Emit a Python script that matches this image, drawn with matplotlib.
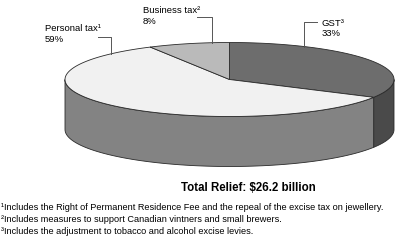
import numpy as np
import matplotlib.pyplot as plt
from matplotlib.patches import Polygon

plt.rcParams['font.family'] = ['Liberation Sans', 'DejaVu Sans']

# -------------------------------
# Data
# -------------------------------
labels = ["GST\u00b3", "Personal tax\u00b9", "Business tax\u00b2"]
shares = [33, 59, 8]
title = "Total Relief: $26.2 billion"
notes = [
    "\u00b9Includes the Right of Permanent Residence Fee and the repeal of the excise tax on jewellery.",
    "\u00b2Includes measures to support Canadian vintners and small brewers.",
    "\u00b3Includes the adjustment to tobacco and alcohol excise levies.",
]

# -------------------------------
# Style / geometry (pixel space)
# -------------------------------
top_cols = ["#6d6d6d", "#f1f1f1", "#bababa"]
side_cols = ["#4a4a4a", "#838383", "#9a9a9a"]
cx, cy, ra, rb, depth = 229.5, 79.5, 164.5, 37.0, 50.0
edge = "#2a2a2a"

fig = plt.figure(figsize=(3.96, 2.4), dpi=100)
ax = fig.add_axes([0, 0, 1, 1])
ax.set_xlim(0, 396)
ax.set_ylim(240, 0)
ax.axis("off")


def pt(t, dz=0.0):
    r = np.radians(t)
    return cx + ra * np.cos(r), cy - rb * np.sin(r) + dz


# slice angles, clockwise from 12 o'clock
bounds = [90.0]
for s in shares:
    bounds.append(bounds[-1] - 360.0 * s / sum(shares))

# side walls (front half only)
for i in range(len(shares)):
    t1, t2 = bounds[i], bounds[i + 1]
    for k in range(2):
        lo, hi = max(t2, -180 - 360 * k), min(t1, 0 - 360 * k)
        if hi <= lo:
            continue
        ts = np.linspace(hi, lo, 80)
        top = [pt(t) for t in ts]
        bot = [pt(t, depth) for t in ts[::-1]]
        ax.add_patch(Polygon(top + bot, closed=True, fc=side_cols[i],
                             ec=edge, lw=0.6))

# top faces
for i in range(len(shares)):
    ts = np.linspace(bounds[i], bounds[i + 1], 120)
    poly = [(cx, cy)] + [pt(t) for t in ts]
    ax.add_patch(Polygon(poly, closed=True, fc=top_cols[i], ec=edge, lw=0.6))

# labels with leader lines
anchor_ang = [63.0, 136.0, 96.0]
label_xy = [(322, 19), (45, 24), (143, 6)]
leader_y = [22, 37, 17]
leader_x = [317, 98, 197]
for i in range(len(shares)):
    ex, ey = pt(anchor_ang[i])
    ax.plot([ex, ex, leader_x[i]], [ey, leader_y[i], leader_y[i]],
            color="#555555", lw=0.7)
    lx, ly = label_xy[i]
    ax.text(lx, ly, labels[i], fontsize=6.8, va="top", ha="left")
    ax.text(lx, ly + 10.5, f"{shares[i]}%", fontsize=6.8, va="top", ha="left")

ax.text(248.5, 188, title, fontsize=8.3, fontweight="bold", ha="center", va="center")

for j, n in enumerate(notes):
    ax.text(1, 208 + 12 * j, n, fontsize=6.55, ha="left", va="center")

fig.savefig("out.png", dpi=100)
